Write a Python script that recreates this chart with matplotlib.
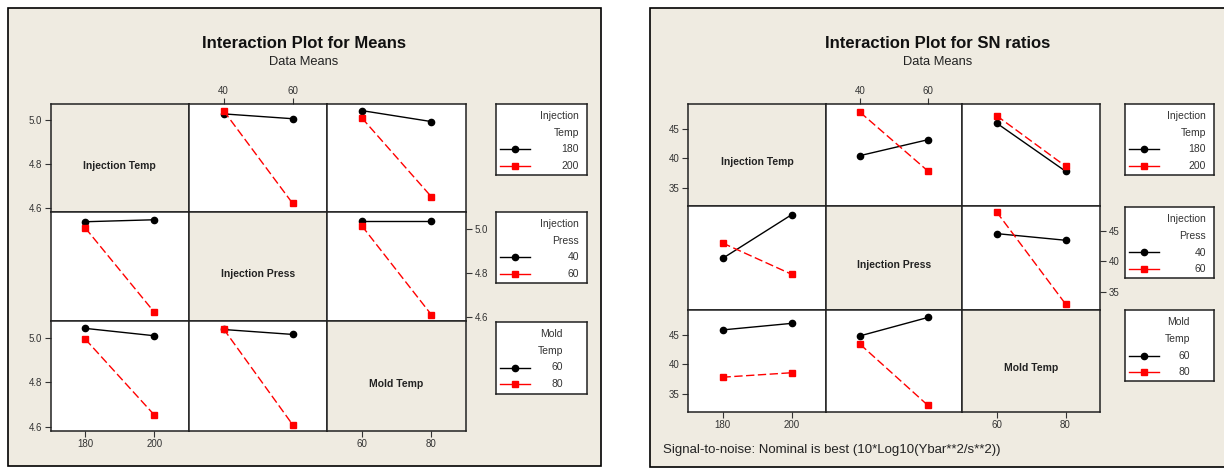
import matplotlib
matplotlib.use("Agg")
import matplotlib.pyplot as plt
from matplotlib import font_manager
from matplotlib.patches import Rectangle

# pick a narrow font if we have one
names = {f.name for f in font_manager.fontManager.ttflist}
if "Liberation Sans Narrow" in names:
    plt.rcParams["font.family"] = ["Liberation Sans Narrow", "DejaVu Sans"]
else:
    plt.rcParams["font.family"] = ["Liberation Sans", "DejaVu Sans"]

# factor levels
factors = ["Injection Temp", "Injection Press", "Mold Temp"]
inj_temp = [180, 200]
inj_press = [40, 60]
mold_temp = [60, 80]
levels = [inj_temp, inj_press, mold_temp]
legend_titles = ["Injection\nTemp", "Injection\nPress", "Mold\nTemp"]

# means: key (row factor, col factor) -> one list per row-factor level
means_it_ip = [[5.030, 5.008], [5.045, 4.623]]
means_it_mt = [[5.045, 4.995], [5.012, 4.653]]
means_ip_it = [[5.031, 5.040], [5.003, 4.622]]
means_ip_mt = [[5.036, 5.036], [5.013, 4.612]]
means_mt_it = [[5.042, 5.009], [4.994, 4.654]]
means_mt_ip = [[5.037, 5.015], [5.040, 4.612]]

# SN ratios
sn_it_ip = [[40.47, 43.15], [47.77, 37.87]]
sn_it_mt = [[45.95, 37.85], [47.20, 38.70]]
sn_ip_it = [[40.50, 47.70], [43.05, 37.90]]
sn_ip_mt = [[44.60, 43.50], [48.20, 33.00]]
sn_mt_it = [[45.80, 46.90], [37.85, 38.60]]
sn_mt_ip = [[44.80, 47.90], [43.40, 33.10]]

means = {(0, 1): means_it_ip, (0, 2): means_it_mt, (1, 0): means_ip_it,
         (1, 2): means_ip_mt, (2, 0): means_mt_it, (2, 1): means_mt_ip}
sn = {(0, 1): sn_it_ip, (0, 2): sn_it_mt, (1, 0): sn_ip_it,
      (1, 2): sn_ip_mt, (2, 0): sn_mt_it, (2, 1): sn_mt_ip}

W, H = 1224, 469
BG = "#efebe1"
fig = plt.figure(figsize=(W / 100, H / 100), dpi=100)
fig.patch.set_facecolor("white")


def px_axes(x0, y0, x1, y1):
    return fig.add_axes([x0 / W, 1 - y1 / H, (x1 - x0) / W, (y1 - y0) / H])


def px_text(x, y, s, **kw):
    fig.text(x / W, 1 - y / H, s, **kw)


styles = [dict(color="black", ls="-", marker="o", ms=4.5, lw=1.0),
          dict(color="red", ls=(0, (6, 2.5)), marker="s", ms=5, lw=1.0)]
xlims = [(170, 210), (30, 70), (50, 90)]


def draw_matrix(gx, gy, data, ylim, yticks, yfmt, boxes, pads, lx0, lx1):
    for r in range(3):
        for c in range(3):
            ax = px_axes(gx[c], gy[r], gx[c + 1], gy[r + 1])
            ax.set_xlim(xlims[c])
            ax.set_ylim(ylim)
            for s in ax.spines.values():
                s.set_linewidth(1.1)
                s.set_color("#222222")
            ax.tick_params(length=4, width=0.8, labelsize=7, pad=2,
                           colors="#333333")
            if r == c:
                ax.set_facecolor(BG)
                ax.text(0.5, 0.43, factors[r], transform=ax.transAxes,
                        ha="center", va="center", fontsize=7.5,
                        fontweight="bold", color="#222222")
            else:
                ax.set_facecolor("white")
                for k in range(2):
                    ax.plot(levels[c], data[(r, c)][k], **styles[k],
                            clip_on=False)
            # y ticks on outer edge, alternating sides
            if r == 1 and c == 2:
                ax.yaxis.tick_right()
                ax.set_yticks(yticks)
                ax.set_yticklabels([yfmt.format(v) for v in yticks])
            elif r != 1 and c == 0:
                ax.set_yticks(yticks)
                ax.set_yticklabels([yfmt.format(v) for v in yticks])
            else:
                ax.set_yticks([])
            # x ticks alternating top/bottom
            if r == 0 and c == 1:
                ax.xaxis.tick_top()
                ax.set_xticks(levels[c])
            elif r == 2 and c != 1:
                ax.set_xticks(levels[c])
            else:
                ax.set_xticks([])

    # legends, one per row factor
    for r in range(3):
        y0, y1 = boxes[r]
        lax = px_axes(lx0, y0, lx1, y1)
        lax.set_facecolor("white")
        for s in lax.spines.values():
            s.set_linewidth(1.1)
            s.set_color("#222222")
        lax.set_xticks([])
        lax.set_yticks([])
        bw, bh = lx1 - lx0, y1 - y0
        lax.set_xlim(0, bw)
        lax.set_ylim(bh, 0)
        tr = bw - pads[r]
        t1, t2 = legend_titles[r].split("\n")
        lax.text(tr, 12, t1, ha="right", va="center", fontsize=7.5,
                 color="#333333")
        lax.text(tr, 29, t2, ha="right", va="center", fontsize=7.5,
                 color="#333333")
        for k in range(2):
            yy = 45.5 + 16.5 * k
            st = dict(styles[k])
            st["ls"] = "-"
            lax.plot([4, 19, 34], [yy, yy, yy], markevery=[1], **st)
            lax.text(tr, yy, str(levels[r][k]), ha="right", va="center",
                     fontsize=7.5, color="#333333")


# left panel: means
fig.add_artist(Rectangle((7.5 / W, 1 - 466 / H), 593 / W, 458 / H,
                         transform=fig.transFigure, facecolor=BG,
                         edgecolor="black", lw=1.2, zorder=-1))
px_text(304, 43, "Interaction Plot for Means", ha="center", va="center",
        fontsize=12, fontweight="bold", color="#111111")
px_text(304, 62, "Data Means", ha="center", va="center", fontsize=9.3,
        color="#222222")
draw_matrix([50.7, 189, 327, 466], [104, 212, 321, 431], means,
            (4.583, 5.075), [4.6, 4.8, 5.0], "{:.1f}",
            [(104, 175), (212, 283), (322, 394)], [8, 8, 24], 496, 587)

# right panel: SN ratios
fig.add_artist(Rectangle((650 / W, 1 - 467 / H), 600 / W, 459 / H,
                         transform=fig.transFigure, facecolor=BG,
                         edgecolor="black", lw=1.2, zorder=-1))
px_text(938, 43, "Interaction Plot for SN ratios", ha="center",
        va="center", fontsize=12, fontweight="bold", color="#111111")
px_text(938, 62, "Data Means", ha="center", va="center", fontsize=9.3,
        color="#222222")
draw_matrix([688, 826, 962, 1100], [104, 206, 310, 412], sn,
            (32.0, 49.15), [35, 40, 45], "{:.0f}",
            [(104, 175), (207, 278), (310, 381)], [8, 8, 24], 1125, 1214)
px_text(663, 450, "Signal-to-noise: Nominal is best (10*Log10(Ybar**2/s**2))",
        ha="left", va="center", fontsize=9.5, color="#222222")

fig.savefig("out.png", dpi=100, facecolor="white")
